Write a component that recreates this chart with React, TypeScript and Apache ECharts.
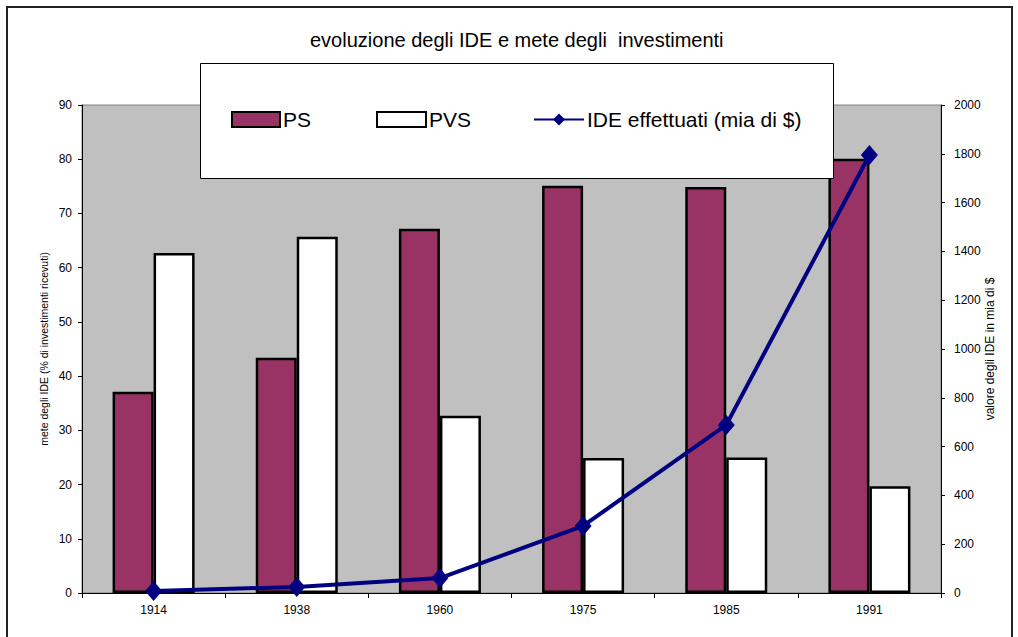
import React, { useEffect, useRef } from "react";
import * as echarts from "echarts";

const years = ["1914", "1938", "1960", "1975", "1985", "1991"];
const psShare = [37.1, 43.4, 67.2, 75.1, 74.9, 80.1];
const pvsShare = [62.7, 65.7, 32.7, 24.9, 25.0, 19.7];
const ideValue = [8, 25, 61, 275, 689, 1795];

const FONT = "Liberation Sans, Arial, sans-serif";
const PS_NAME = "PS";
const PVS_NAME = "PVS";
const IDE_NAME = "IDE effettuati (mia di $)";

const legendText = { fontFamily: FONT, fontSize: 21, color: "#000", padding: [0, 0, 0, -2] };

export default function App() {
  const ref = useRef<HTMLDivElement>(null);

  useEffect(() => {
    if (!ref.current) return;
    const chart = echarts.init(ref.current, null, { renderer: "svg" });
    chart.setOption({
      animation: false,
      backgroundColor: "#ffffff",
      textStyle: { fontFamily: FONT, color: "#000" },
      title: {
        text: "evoluzione degli IDE e mete degli  investimenti",
        left: 305,
        top: 25,
        textStyle: { fontFamily: FONT, fontSize: 20, fontWeight: "normal", color: "#000" },
      },
      grid: {
        left: 82,
        right: 77,
        top: 105,
        bottom: 44,
        show: true,
        backgroundColor: "#C0C0C0",
        borderColor: "#808080",
        borderWidth: 1,
      },
      graphic: [
        {
          type: "polyline",
          z: 100,
          shape: { points: [[7, 640], [7, 7], [1012, 7], [1012, 640]] },
          style: { fill: "none", stroke: "#222", lineWidth: 2 },
        },
        {
          type: "rect",
          z: 5,
          shape: { x: 200.5, y: 63.5, width: 633, height: 115 },
          style: { fill: "#fff", stroke: "#000", lineWidth: 1 },
        },
      ],
      legend: [
        {
          z: 10,
          left: 231,
          top: 109,
          padding: 0,
          itemWidth: 48,
          itemHeight: 15,
          icon: "rect",
          textStyle: legendText,
          data: [PS_NAME],
        },
        {
          z: 10,
          left: 376,
          top: 109,
          padding: 0,
          itemWidth: 49,
          itemHeight: 15,
          icon: "rect",
          textStyle: legendText,
          data: [PVS_NAME],
        },
        {
          z: 10,
          left: 533,
          top: 109,
          padding: 0,
          itemWidth: 50,
          itemHeight: 15,
          textStyle: legendText,
          data: [IDE_NAME],
        },
      ],
      xAxis: {
        type: "category",
        data: years,
        boundaryGap: true,
        axisLine: { lineStyle: { color: "#000", width: 1 } },
        axisTick: { show: true, length: 5, lineStyle: { color: "#000" } },
        axisLabel: { fontFamily: FONT, fontSize: 12, color: "#000", margin: 11 },
      },
      yAxis: [
        {
          type: "value",
          min: 0,
          max: 90,
          interval: 10,
          name: "mete degli IDE (% di investimenti ricevuti)",
          nameLocation: "middle",
          nameRotate: 90,
          nameGap: 33,
          nameMoveOverlap: false,
          nameTextStyle: { fontFamily: FONT, fontSize: 10.5, color: "#000" },
          axisLine: { show: true, lineStyle: { color: "#000" } },
          axisTick: { show: true, length: 4, lineStyle: { color: "#000" } },
          axisLabel: { fontFamily: FONT, fontSize: 12, color: "#000", margin: 10 },
          splitLine: { show: false },
        },
        {
          type: "value",
          min: 0,
          max: 2000,
          interval: 200,
          position: "right",
          name: "valore degli IDE in mia di $",
          nameLocation: "middle",
          nameRotate: 90,
          nameGap: 43,
          nameMoveOverlap: false,
          nameTextStyle: { fontFamily: FONT, fontSize: 12, color: "#000" },
          axisLine: { show: true, lineStyle: { color: "#000" } },
          axisTick: { show: true, length: 4, lineStyle: { color: "#000" } },
          axisLabel: {
            fontFamily: FONT,
            fontSize: 12,
            color: "#000",
            margin: 13,
            formatter: (v: number) => String(v),
          },
          splitLine: { show: false },
        },
      ],
      series: [
        {
          name: PS_NAME,
          type: "bar",
          yAxisIndex: 0,
          data: psShare,
          barWidth: 41,
          barGap: "0%",
          itemStyle: { color: "#993366", borderColor: "#000", borderWidth: 2.5 },
        },
        {
          name: PVS_NAME,
          type: "bar",
          yAxisIndex: 0,
          data: pvsShare,
          barWidth: 41,
          barGap: "0%",
          itemStyle: { color: "#ffffff", borderColor: "#000", borderWidth: 2.5 },
        },
        {
          name: IDE_NAME,
          type: "line",
          yAxisIndex: 1,
          data: ideValue,
          z: 3,
          symbol: "diamond",
          symbolSize: [17, 20],
          lineStyle: { color: "#000080", width: 4 },
          itemStyle: { color: "#000080" },
        },
      ],
    });
    return () => chart.dispose();
  }, []);

  return (
    <div
      ref={ref}
      style={{ position: "fixed", left: 0, top: 0, width: 1018, height: 637 }}
    />
  );
}
